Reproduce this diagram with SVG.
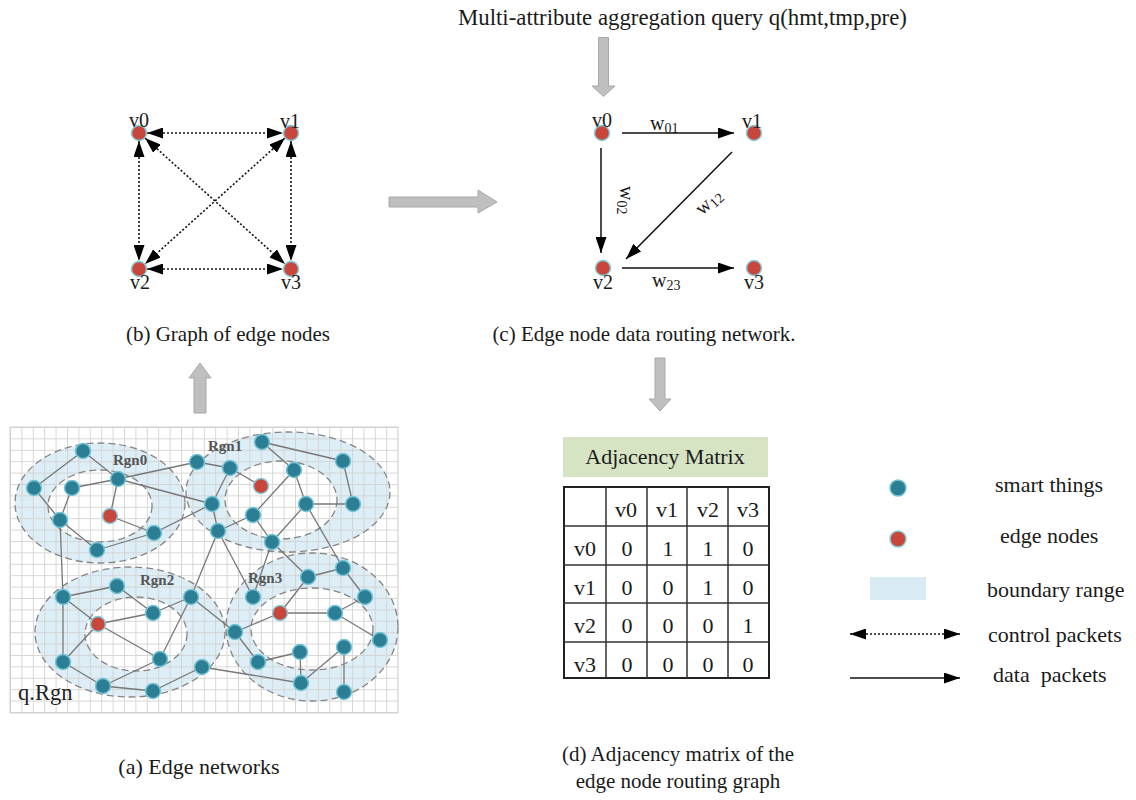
<svg xmlns="http://www.w3.org/2000/svg" width="1136" height="800" viewBox="0 0 1136 800">
<style>
text{font-family:"Liberation Serif","Times New Roman",serif;fill:#1a1a1a}
.cap{font-size:21px}
.lbl{font-size:20px}
.leg{font-size:22px}
.mt{font-size:22px;text-anchor:middle}
.rg{font-size:15px;font-weight:bold;fill:#555}
.st{fill:#2b7e93;stroke:#74c4d6;stroke-width:1.5}
.ed{fill:#c9473a;stroke:#86cbd9;stroke-width:1.5}
.ne{stroke:#777;stroke-width:1.3}
.ring{fill:#deeef6}
.hole{fill:#fff}
.dash{fill:none;stroke:#858585;stroke-width:1.3;stroke-dasharray:7 4}
.ctl{stroke:#111;stroke-width:1.6;stroke-dasharray:2 2;fill:none;marker-start:url(#ah);marker-end:url(#ah)}
.dat{stroke:#111;stroke-width:1.5;fill:none;marker-end:url(#ah)}
.big{fill:#bfbfbf;stroke:#a8a8a8;stroke-width:1}
.tb{stroke:#333;stroke-width:1.5;fill:none}
.w{font-size:20px}
.sub{font-size:14px}
</style>
<defs>
<marker id="ah" viewBox="0 0 16 11" refX="16" refY="5.5" markerWidth="16" markerHeight="11" markerUnits="userSpaceOnUse" orient="auto-start-reverse"><path d="M0,0 L16,5.5 L0,11 z" fill="#000"/></marker>
<pattern id="grid" x="10" y="427" width="11.4" height="11.4" patternUnits="userSpaceOnUse"><path d="M0.5,0 V11.4 M0,0.5 H11.4" stroke="#cfcfcf" stroke-width="1" fill="none"/></pattern>
</defs>
<rect width="1136" height="800" fill="#fff"/>

<!-- title -->
<text x="458" y="25" style="font-size:22.8px">Multi-attribute aggregation query q(hmt,tmp,pre)</text>

<!-- big gray arrows -->
<g id="big-arrows">
<path class="big" d="M598.5,37.5 H608.5 V86 H615 L603.5,96.5 L592,86 H598.5 Z"/>
<path class="big" d="M389,197 H478 V190 L497,202 L478,213 V207 H389 Z"/>
<path class="big" d="M194,413 H206 V378 H211 L200,363 L189,378 H194 Z"/>
<path class="big" d="M655,358 H665 V399 H671 L660,411 L649,399 H655 Z"/>
</g>

<!-- panel a -->
<g id="panel-a">
<rect x="10" y="427" width="388" height="286" fill="#fff" stroke="#d0d0d0"/>
<g id="boundaries">
<ellipse class="ring" cx="100" cy="503" rx="85" ry="60"/>
<ellipse class="ring" cx="288" cy="492" rx="102" ry="60"/>
<ellipse class="ring" cx="130" cy="632" rx="95" ry="65"/>
<ellipse class="ring" cx="312" cy="627" rx="86" ry="74"/>
<ellipse class="hole" cx="100" cy="506" rx="52" ry="36"/>
<ellipse class="hole" cx="281" cy="500" rx="56" ry="39"/>
<ellipse class="hole" cx="136" cy="634" rx="51" ry="37"/>
<ellipse class="hole" cx="312" cy="629" rx="61" ry="41"/>
</g>
<rect x="10" y="427" width="388" height="286" fill="url(#grid)" opacity="0.85"/>
<g id="boundary-outlines">
<ellipse class="dash" cx="100" cy="503" rx="85" ry="60"/>
<ellipse class="dash" cx="288" cy="492" rx="102" ry="60"/>
<ellipse class="dash" cx="130" cy="632" rx="95" ry="65"/>
<ellipse class="dash" cx="312" cy="627" rx="86" ry="74"/>
<ellipse class="dash" cx="100" cy="506" rx="52" ry="36"/>
<ellipse class="dash" cx="281" cy="500" rx="56" ry="39"/>
<ellipse class="dash" cx="136" cy="634" rx="51" ry="37"/>
<ellipse class="dash" cx="312" cy="629" rx="61" ry="41"/>
</g>
<g id="a-links">
<line class="ne" x1="83" y1="451" x2="34" y2="488"/>
<line class="ne" x1="83" y1="451" x2="118" y2="479"/>
<line class="ne" x1="72" y1="488" x2="118" y2="479"/>
<line class="ne" x1="118" y1="479" x2="110" y2="516"/>
<line class="ne" x1="34" y1="488" x2="60" y2="520"/>
<line class="ne" x1="72" y1="488" x2="60" y2="520"/>
<line class="ne" x1="60" y1="520" x2="97" y2="550"/>
<line class="ne" x1="110" y1="516" x2="154" y2="533"/>
<line class="ne" x1="97" y1="550" x2="154" y2="533"/>
<line class="ne" x1="60" y1="520" x2="63" y2="597"/>
<line class="ne" x1="118" y1="479" x2="212" y2="504"/>
<line class="ne" x1="118" y1="479" x2="197" y2="462"/>
<line class="ne" x1="154" y1="533" x2="212" y2="504"/>
<line class="ne" x1="230" y1="468" x2="212" y2="504"/>
<line class="ne" x1="197" y1="462" x2="230" y2="468"/>
<line class="ne" x1="230" y1="468" x2="261" y2="486"/>
<line class="ne" x1="262" y1="442" x2="343" y2="461"/>
<line class="ne" x1="262" y1="442" x2="294" y2="470"/>
<line class="ne" x1="343" y1="461" x2="353" y2="504"/>
<line class="ne" x1="294" y1="470" x2="253" y2="515"/>
<line class="ne" x1="294" y1="470" x2="306" y2="504"/>
<line class="ne" x1="306" y1="504" x2="353" y2="504"/>
<line class="ne" x1="253" y1="515" x2="218" y2="531"/>
<line class="ne" x1="253" y1="515" x2="272" y2="542"/>
<line class="ne" x1="306" y1="504" x2="272" y2="542"/>
<line class="ne" x1="306" y1="504" x2="343" y2="568"/>
<line class="ne" x1="212" y1="504" x2="218" y2="531"/>
<line class="ne" x1="218" y1="531" x2="191" y2="597"/>
<line class="ne" x1="218" y1="531" x2="253" y2="597"/>
<line class="ne" x1="272" y1="542" x2="253" y2="597"/>
<line class="ne" x1="272" y1="542" x2="308" y2="577"/>
<line class="ne" x1="308" y1="577" x2="343" y2="568"/>
<line class="ne" x1="343" y1="568" x2="365" y2="597"/>
<line class="ne" x1="308" y1="577" x2="280" y2="613"/>
<line class="ne" x1="280" y1="613" x2="335" y2="613"/>
<line class="ne" x1="335" y1="613" x2="365" y2="597"/>
<line class="ne" x1="335" y1="613" x2="380" y2="640"/>
<line class="ne" x1="280" y1="613" x2="235" y2="632"/>
<line class="ne" x1="235" y1="632" x2="258" y2="662"/>
<line class="ne" x1="258" y1="662" x2="300" y2="652"/>
<line class="ne" x1="300" y1="652" x2="301" y2="683"/>
<line class="ne" x1="301" y1="683" x2="344" y2="647"/>
<line class="ne" x1="344" y1="647" x2="344" y2="692"/>
<line class="ne" x1="202" y1="667" x2="301" y2="683"/>
<line class="ne" x1="191" y1="597" x2="235" y2="632"/>
<line class="ne" x1="191" y1="597" x2="160" y2="659"/>
<line class="ne" x1="63" y1="597" x2="117" y2="586"/>
<line class="ne" x1="63" y1="597" x2="98" y2="624"/>
<line class="ne" x1="117" y1="586" x2="153" y2="613"/>
<line class="ne" x1="98" y1="624" x2="153" y2="613"/>
<line class="ne" x1="153" y1="613" x2="191" y2="597"/>
<line class="ne" x1="98" y1="624" x2="63" y2="662"/>
<line class="ne" x1="98" y1="624" x2="160" y2="659"/>
<line class="ne" x1="63" y1="597" x2="63" y2="662"/>
<line class="ne" x1="63" y1="662" x2="103" y2="686"/>
<line class="ne" x1="103" y1="686" x2="160" y2="659"/>
<line class="ne" x1="103" y1="686" x2="153" y2="691"/>
<line class="ne" x1="153" y1="691" x2="202" y2="667"/>
</g>
<g id="a-n1"><circle class="st" cx="83" cy="451" r="7.5"/></g>
<g id="a-n2"><circle class="st" cx="34" cy="488" r="7.5"/></g>
<g id="a-n3"><circle class="st" cx="72" cy="488" r="7.5"/></g>
<g id="a-n4"><circle class="st" cx="118" cy="479" r="7.5"/></g>
<g id="a-n5"><circle class="st" cx="60" cy="520" r="7.5"/></g>
<g id="a-n6"><circle class="st" cx="154" cy="533" r="7.5"/></g>
<g id="a-n7"><circle class="st" cx="97" cy="550" r="7.5"/></g>
<g id="a-n8"><circle class="st" cx="197" cy="462" r="7.5"/></g>
<g id="a-n9"><circle class="st" cx="230" cy="468" r="7.5"/></g>
<g id="a-n10"><circle class="st" cx="262" cy="442" r="7.5"/></g>
<g id="a-n11"><circle class="st" cx="294" cy="470" r="7.5"/></g>
<g id="a-n12"><circle class="st" cx="343" cy="461" r="7.5"/></g>
<g id="a-n13"><circle class="st" cx="212" cy="504" r="7.5"/></g>
<g id="a-n14"><circle class="st" cx="253" cy="515" r="7.5"/></g>
<g id="a-n15"><circle class="st" cx="306" cy="504" r="7.5"/></g>
<g id="a-n16"><circle class="st" cx="353" cy="504" r="7.5"/></g>
<g id="a-n17"><circle class="st" cx="218" cy="531" r="7.5"/></g>
<g id="a-n18"><circle class="st" cx="272" cy="542" r="7.5"/></g>
<g id="a-n19"><circle class="st" cx="343" cy="568" r="7.5"/></g>
<g id="a-n20"><circle class="st" cx="308" cy="577" r="7.5"/></g>
<g id="a-n21"><circle class="st" cx="365" cy="597" r="7.5"/></g>
<g id="a-n22"><circle class="st" cx="335" cy="613" r="7.5"/></g>
<g id="a-n23"><circle class="st" cx="380" cy="640" r="7.5"/></g>
<g id="a-n24"><circle class="st" cx="253" cy="597" r="7.5"/></g>
<g id="a-n25"><circle class="st" cx="235" cy="632" r="7.5"/></g>
<g id="a-n26"><circle class="st" cx="300" cy="652" r="7.5"/></g>
<g id="a-n27"><circle class="st" cx="344" cy="647" r="7.5"/></g>
<g id="a-n28"><circle class="st" cx="258" cy="662" r="7.5"/></g>
<g id="a-n29"><circle class="st" cx="301" cy="683" r="7.5"/></g>
<g id="a-n30"><circle class="st" cx="344" cy="692" r="7.5"/></g>
<g id="a-n31"><circle class="st" cx="63" cy="597" r="7.5"/></g>
<g id="a-n32"><circle class="st" cx="117" cy="586" r="7.5"/></g>
<g id="a-n33"><circle class="st" cx="153" cy="613" r="7.5"/></g>
<g id="a-n34"><circle class="st" cx="191" cy="597" r="7.5"/></g>
<g id="a-n35"><circle class="st" cx="63" cy="662" r="7.5"/></g>
<g id="a-n36"><circle class="st" cx="160" cy="659" r="7.5"/></g>
<g id="a-n37"><circle class="st" cx="103" cy="686" r="7.5"/></g>
<g id="a-n38"><circle class="st" cx="153" cy="691" r="7.5"/></g>
<g id="a-n39"><circle class="st" cx="202" cy="667" r="7.5"/></g>
<g id="a-r0"><circle class="ed" cx="110" cy="516" r="7.5"/></g>
<g id="a-r1"><circle class="ed" cx="261" cy="486" r="7.5"/></g>
<g id="a-r2"><circle class="ed" cx="98" cy="624" r="7.5"/></g>
<g id="a-r3"><circle class="ed" cx="280" cy="613" r="7.5"/></g>
<text class="rg" x="113" y="465">Rgn0</text>
<text class="rg" x="208" y="451">Rgn1</text>
<text class="rg" x="140" y="585">Rgn2</text>
<text class="rg" x="248" y="583">Rgn3</text>
<text x="18" y="700" style="font-size:22.5px;fill:#222">q.Rgn</text>
</g>
<text class="cap" x="199" y="774" text-anchor="middle" style="font-size:22px">(a) Edge networks</text>

<!-- panel b -->
<g id="panel-b">
<g id="b-links">
<line class="ctl" x1="147" y1="133" x2="283" y2="133"/>
<line class="ctl" x1="139" y1="141" x2="139" y2="261"/>
<line class="ctl" x1="291" y1="141" x2="291" y2="261"/>
<line class="ctl" x1="147" y1="269" x2="283" y2="269"/>
<line class="ctl" x1="145" y1="138" x2="285" y2="264"/>
<line class="ctl" x1="285" y1="138" x2="145" y2="264"/>
</g>
<g id="b-v0"><circle class="ed" cx="139" cy="133" r="7.5"/><text class="lbl" x="139" y="127" text-anchor="middle">v0</text></g>
<g id="b-v1"><circle class="ed" cx="291" cy="133" r="7.5"/><text class="lbl" x="290" y="128" text-anchor="middle">v1</text></g>
<g id="b-v2"><circle class="ed" cx="139" cy="269" r="7.5"/><text class="lbl" x="140" y="289" text-anchor="middle">v2</text></g>
<g id="b-v3"><circle class="ed" cx="291" cy="269" r="7.5"/><text class="lbl" x="291" y="289" text-anchor="middle">v3</text></g>
</g>
<text class="cap" x="228" y="341" text-anchor="middle">(b) Graph of edge nodes</text>

<!-- panel c -->
<g id="panel-c">
<g id="c-links">
<line class="dat" x1="622" y1="133" x2="734" y2="133"/>
<line class="dat" x1="601" y1="148" x2="601" y2="253"/>
<line class="dat" x1="732" y1="152" x2="626" y2="259"/>
<line class="dat" x1="622" y1="268" x2="734" y2="268"/>
</g>
<g id="c-v0"><circle class="ed" cx="602" cy="133" r="7.5"/><text class="lbl" x="602" y="127" text-anchor="middle">v0</text></g>
<g id="c-v1"><circle class="ed" cx="754" cy="133" r="7.5"/><text class="lbl" x="752" y="128" text-anchor="middle">v1</text></g>
<g id="c-v2"><circle class="ed" cx="603" cy="268" r="7.5"/><text class="lbl" x="603" y="289" text-anchor="middle">v2</text></g>
<g id="c-v3"><circle class="ed" cx="754" cy="268" r="7.5"/><text class="lbl" x="754" y="289" text-anchor="middle">v3</text></g>
<text class="w" x="650" y="130">w<tspan class="sub" dy="3">01</tspan></text>
<text class="w" transform="translate(620,186) rotate(90)">w<tspan class="sub" dy="3">02</tspan></text>
<text class="w" transform="translate(702,216) rotate(-42)">w<tspan class="sub" dy="3">12</tspan></text>
<text class="w" x="652" y="287">w<tspan class="sub" dy="3">23</tspan></text>
</g>
<text class="cap" x="644" y="341" text-anchor="middle">(c) Edge node data routing network.</text>

<!-- panel d -->
<g id="panel-d">
<rect x="563" y="437" width="205" height="40" fill="#d6e4c4"/>
<text class="mt" x="665" y="464">Adjacency Matrix</text>
<g id="matrix">
<rect x="564" y="487" width="205" height="191" fill="none" stroke="#222" stroke-width="2"/>
<path class="tb" d="M606,487 V678 M647,487 V678 M687,487 V678 M728,487 V678 M564,526 H769 M564,565 H769 M564,603 H769 M564,642 H769"/>
<text class="mt" x="626" y="517">v0</text><text class="mt" x="667" y="517">v1</text><text class="mt" x="708" y="517">v2</text><text class="mt" x="748" y="517">v3</text>
<text class="mt" x="585" y="556">v0</text><text class="mt" x="627" y="556">0</text><text class="mt" x="668" y="556">1</text><text class="mt" x="708" y="556">1</text><text class="mt" x="748" y="556">0</text>
<text class="mt" x="585" y="595">v1</text><text class="mt" x="627" y="595">0</text><text class="mt" x="668" y="595">0</text><text class="mt" x="708" y="595">1</text><text class="mt" x="748" y="595">0</text>
<text class="mt" x="585" y="633">v2</text><text class="mt" x="627" y="633">0</text><text class="mt" x="668" y="633">0</text><text class="mt" x="708" y="633">0</text><text class="mt" x="748" y="633">1</text>
<text class="mt" x="585" y="672">v3</text><text class="mt" x="627" y="672">0</text><text class="mt" x="668" y="672">0</text><text class="mt" x="708" y="672">0</text><text class="mt" x="748" y="672">0</text>
</g>
</g>
<text class="cap" x="678" y="761" text-anchor="middle">(d) Adjacency matrix of the</text>
<text class="cap" x="678" y="788" text-anchor="middle">edge node routing graph</text>

<!-- legend -->
<g id="legend">
<g id="leg-smart"><circle class="st" cx="898" cy="488" r="8"/><text class="leg" x="995" y="492">smart things</text></g>
<g id="leg-edge"><circle class="ed" cx="898" cy="539" r="8"/><text class="leg" x="1000" y="543">edge nodes</text></g>
<g id="leg-boundary"><rect x="870" y="577" width="56" height="23" fill="#d8eaf2"/><text class="leg" x="987" y="597">boundary range</text></g>
<g id="leg-control"><line class="ctl" x1="850" y1="634" x2="960" y2="634"/><text class="leg" x="988" y="642">control packets</text></g>
<g id="leg-data"><line class="dat" x1="850" y1="678" x2="960" y2="678"/><text class="leg" x="993" y="682" xml:space="preserve">data  packets</text></g>
</g>
</svg>
